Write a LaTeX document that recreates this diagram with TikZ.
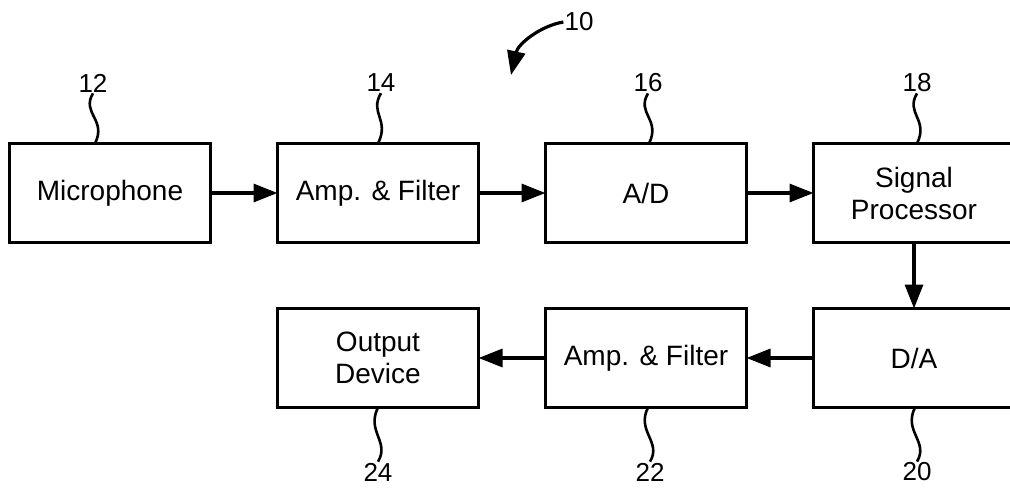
\documentclass[tikz,border=0pt]{standalone}
\usepackage{fontspec}
\setmainfont{Liberation Sans}
\usetikzlibrary{arrows.meta,positioning}

\begin{document}
\begin{tikzpicture}[>={Triangle[length=24pt,width=18pt]}, x=1pt, y=-1pt,
    node distance=67pt,
    block/.style={draw, line width=3.2pt, outer sep=0pt, minimum width=201pt, minimum height=99pt,
        align=center, font=\fontsize{28}{32}\selectfont},
    flow/.style={->, line width=3.2pt},
    num/.style={font=\fontsize{26}{28}\selectfont, inner sep=1pt},
    lead/.style={line width=2.6pt}]
    \useasboundingbox (0,0) rectangle (1010,490);

    % top row
    \node[block] (mic) at (110,193) {Microphone};
    \node[block, right=of mic] (amp1) {Amp. \& Filter};
    \node[block, right=of amp1] (ad) {A/D};
    \node[block, right=of ad] (sp) {Signal\\Processor};

    % bottom row
    \node[block, below=66pt of sp] (da) {D/A};
    \node[block, left=of da] (amp2) {Amp. \& Filter};
    \node[block, left=of amp2] (out) {Output\\Device};

    % signal flow
    \draw[flow] (mic) -- (amp1);
    \draw[flow] (amp1) -- (ad);
    \draw[flow] (ad) -- (sp);
    \draw[flow] (sp) -- (da);
    \draw[flow] (da) -- (amp2);
    \draw[flow] (amp2) -- (out);

    % reference numerals
    \node[num] (n10) at (579,22) {10};
    \node[num] (n12) at (93,83) {12};
    \node[num] (n14) at (381,83) {14};
    \node[num] (n16) at (648,83) {16};
    \node[num] (n18) at (917,83) {18};
    \node[num] (n24) at (378,472) {24};
    \node[num] (n22) at (650,472) {22};
    \node[num] (n20) at (917,472) {20};

    \coordinate (c10) at (511,75);
    \draw[flow] (n10.west) .. controls (540,26) and (518,44) .. (c10);

    % lead lines
    \draw[lead] ([xshift=-15pt]mic.north) .. controls +(12,-24) and +(-12,20) .. (n12.south);
    \draw[lead] ([xshift=0pt]amp1.north) .. controls +(12,-24) and +(-12,20) .. (n14.south);
    \draw[lead] ([xshift=3pt]ad.north) .. controls +(12,-24) and +(-12,20) .. (n16.south);
    \draw[lead] ([xshift=3pt]sp.north) .. controls +(12,-24) and +(-12,20) .. (n18.south);
    \draw[lead] ([xshift=0pt]out.south) .. controls +(-12,24) and +(12,-20) .. (n24.north);
    \draw[lead] ([xshift=2pt]amp2.south) .. controls +(-12,24) and +(12,-20) .. (n22.north);
    \draw[lead] ([xshift=1pt]da.south) .. controls +(-12,24) and +(12,-20) .. (n20.north);
\end{tikzpicture}
\end{document}
